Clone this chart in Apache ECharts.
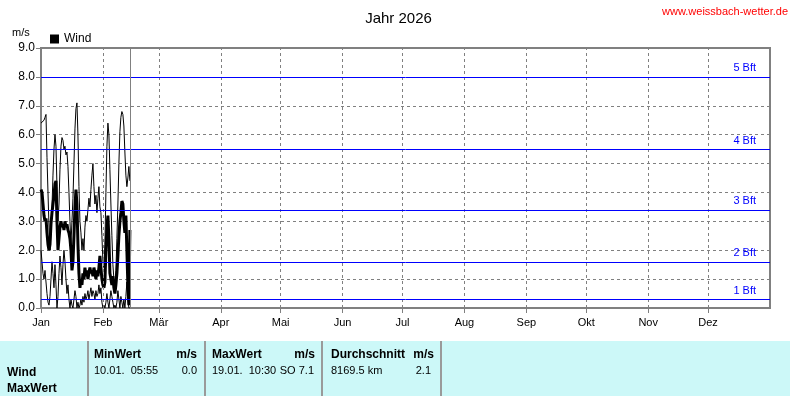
<!DOCTYPE html>
<html><head><meta charset="utf-8">
<script src="https://cdn.jsdelivr.net/npm/echarts@6/dist/echarts.min.js"></script>
<style>html,body{margin:0;padding:0;background:#fff}#c{width:797px;height:396px}</style>
</head><body><div id="c"></div>
<script>
// ---- data ----
const monthLabels = ['Jan','Feb','Mär','Apr','Mai','Jun','Jul','Aug','Sep','Okt','Nov','Dez'];
const monthStartDays = [0,31,59,90,120,151,181,212,243,273,304,334];
const yearDays = 365;
const sampleStepDays = 0.5;   // samples every 12 h from 1 Jan
const windMax = [6.4,6.4,6.4,6.5,6.6,6.7,5.2,4.0,2.8,2.0,
 2.6,3.5,4.6,5.5,6.0,5.6,4.2,3.0,3.6,4.8,
 5.6,5.9,5.8,5.5,5.6,5.3,5.4,4.9,4.0,3.0,
 2.2,3.0,3.8,5.0,6.2,6.9,7.1,6.0,4.2,3.0,
 2.6,2.0,2.4,2.0,2.8,3.2,3.0,3.4,3.8,3.5,
 4.1,4.6,5.0,4.2,3.6,3.9,3.3,3.8,4.2,3.5,
 3.3,2.5,1.6,1.4,2.2,4.0,5.6,6.4,6.0,4.8,
 3.6,2.5,1.5,1.0,0.9,1.3,2.4,3.6,5.0,6.1,
 6.6,6.8,6.7,6.3,5.4,4.6,4.2,4.5,4.9,4.4];
const windMean = [4.1,4.0,3.6,3.2,3.0,3.1,2.6,2.2,2.0,2.2,
 2.9,3.3,3.6,3.9,4.3,4.4,3.0,2.0,2.4,2.8,
 3.0,2.8,2.9,2.7,3.0,2.8,2.9,2.7,2.6,2.4,
 2.0,1.3,1.6,2.5,3.5,4.1,3.6,2.2,1.2,0.7,
 1.0,0.8,1.2,1.0,1.4,1.1,1.3,1.0,1.2,1.4,
 1.2,1.3,1.1,1.4,1.2,1.0,1.3,1.1,1.4,1.8,
 1.4,1.0,0.8,0.7,0.9,2.0,2.8,3.2,2.4,1.2,
 1.0,0.8,1.1,0.7,0.5,0.8,1.2,1.8,2.5,3.0,
 3.3,3.7,3.6,3.0,2.6,3.2,2.0,0.8,0.1,2.7];
const windMin = [2.0,1.6,1.2,1.0,1.3,0.9,0.5,0.2,0.1,0.4,
 1.0,1.6,1.2,0.7,1.5,0.8,0.0,0.4,1.2,1.8,
 1.4,0.8,1.5,2.0,1.6,1.0,0.5,0.8,0.3,0.0,
 0.3,0.1,0.0,0.3,0.6,0.4,0.0,0.2,0.0,0.1,
 0.3,0.1,0.4,0.2,0.5,0.3,0.4,0.6,0.3,0.5,
 0.7,0.4,0.6,0.5,0.3,0.6,0.4,0.5,0.8,0.5,
 0.7,0.2,0.0,0.1,0.0,0.2,0.5,0.2,0.0,0.3,
 0.6,0.4,0.2,0.0,0.1,0.0,0.2,0.6,0.3,0.0,
 0.4,0.2,0.0,0.3,0.0,0.4,0.9,0.3,0.0,0.0];
const beaufortLevels = [0.3,1.6,3.4,5.5,8.0];
const beaufortLabels = ['1 Bft','2 Bft','3 Bft','4 Bft','5 Bft'];
const currentDay = 44.5;
const yMin = 0, yMax = 9, yInterval = 1;
const tableRowLabels = ['Wind','MaxWert'];
const tableHeads = ['MinWert','MaxWert','Durchschnitt'];
const tableUnit = 'm/s';
const tableLeftTexts = ['10.01.  05:55','19.01.  10:30','8169.5 km'];
const tableRightTexts = ['0.0','SO 7.1','2.1'];

// ---- chart ----
const toPts = arr => arr.map((v,i)=>[i*sampleStepDays, v]);
const FONT = 'Liberation Sans, Arial, sans-serif';
const chart = echarts.init(document.getElementById('c'), null, {renderer:'canvas'});

const graphic = [
  {type:'text', right:9, top:6, style:{text:'www.weissbach-wetter.de', fill:'#ff0000', font:'11px '+FONT}},
  {type:'text', left:12, top:27, style:{text:'m/s', fill:'#000', font:'11px '+FONT}},
  {type:'rect', shape:{x:0,y:341,width:790,height:55}, style:{fill:'#ccf8f8'}, silent:true}
];
[88,205,322,441].forEach(x=>graphic.push({type:'line', shape:{x1:x,y1:341,x2:x,y2:396}, style:{stroke:'#9a9a9a', lineWidth:2}, silent:true}));
const addT = (t,x,y,bold,align)=>graphic.push({type:'text', x:x, y:y, style:{text:t, fill:'#000', font:(bold?'bold 12px ':'11px ')+FONT, textAlign:align||'left', textVerticalAlign:'middle'}, silent:true});
addT(tableRowLabels[0],7,373,true);
addT(tableRowLabels[1],7,389,true);
const colL = [94,212,331], colR = [197,315,434], colR2=[197,314,431];
tableHeads.forEach((h,i)=>{
  addT(h,colL[i],355,true);
  addT(tableUnit,colR[i],355,true,'right');
  addT(tableLeftTexts[i],colL[i],371,false);
  addT(tableRightTexts[i],colR2[i],371,false,'right');
});

const option = {
  animation:false,
  backgroundColor:'#fff',
  title:{text:'Jahr 2026', left:'center', top:6, textStyle:{fontSize:15, fontWeight:'normal', color:'#000', fontFamily:FONT}},
  legend:{data:['Wind'], left:45, top:28, icon:'rect', itemWidth:9, itemHeight:9, itemGap:5, textStyle:{fontSize:12, color:'#000', fontFamily:FONT}},
  grid:{left:41, right:27, top:48, bottom:88, show:true, borderColor:'#808080', borderWidth:2, backgroundColor:'transparent'},
  xAxis:{type:'value', min:0, max:yearDays,
    axisLine:{show:false},
    axisTick:{show:true, customValues:monthStartDays, length:5, lineStyle:{color:'#808080'}},
    axisLabel:{customValues:monthStartDays, margin:9, fontSize:11, color:'#000', fontFamily:FONT,
      formatter:v=>monthLabels[monthStartDays.indexOf(v)]},
    splitLine:{show:false}},
  yAxis:{type:'value', min:yMin, max:yMax, interval:yInterval,
    axisLine:{show:false},
    axisTick:{show:true, length:5, lineStyle:{color:'#808080'}},
    axisLabel:{margin:6, fontSize:12, color:'#000', fontFamily:FONT, formatter:v=>v.toFixed(1)},
    splitLine:{show:true, lineStyle:{color:'#808080', type:[3,3], width:1}}},
  graphic:graphic,
  series:[
    {name:'helper', type:'line', data:[], silent:true,
      markLine:{silent:true, symbol:['none','none'], animation:false,
        label:{show:false},
        lineStyle:{color:'#808080', type:[3,3], width:1},
        data:monthStartDays.slice(1).map(d=>({xAxis:d}))}},
    {name:'Max', type:'line', data:toPts(windMax), showSymbol:false, symbol:'none',
      lineStyle:{color:'#000', width:1}, itemStyle:{color:'#000'}},
    {name:'Min', type:'line', data:toPts(windMin), showSymbol:false, symbol:'none',
      lineStyle:{color:'#000', width:1}, itemStyle:{color:'#000'}},
    {name:'Wind', type:'line', data:toPts(windMean), showSymbol:false, symbol:'none',
      lineStyle:{color:'#000', width:3}, itemStyle:{color:'#000'},
      markLine:{silent:true, symbol:['none','none'], animation:false,
        data:[
          ...beaufortLevels.map((v,i)=>({yAxis:v, name:beaufortLabels[i],
            lineStyle:{color:'#0000ff', type:'solid', width:1},
            label:{show:true, position:'insideEndTop', formatter:'{b}', color:'#0000ff', fontSize:11, fontFamily:FONT, distance:[14,3]}})),
          {xAxis:currentDay, lineStyle:{color:'#808080', type:'solid', width:1}, label:{show:false}}
        ]}}
  ]
};
chart.setOption(option);
</script></body></html>
